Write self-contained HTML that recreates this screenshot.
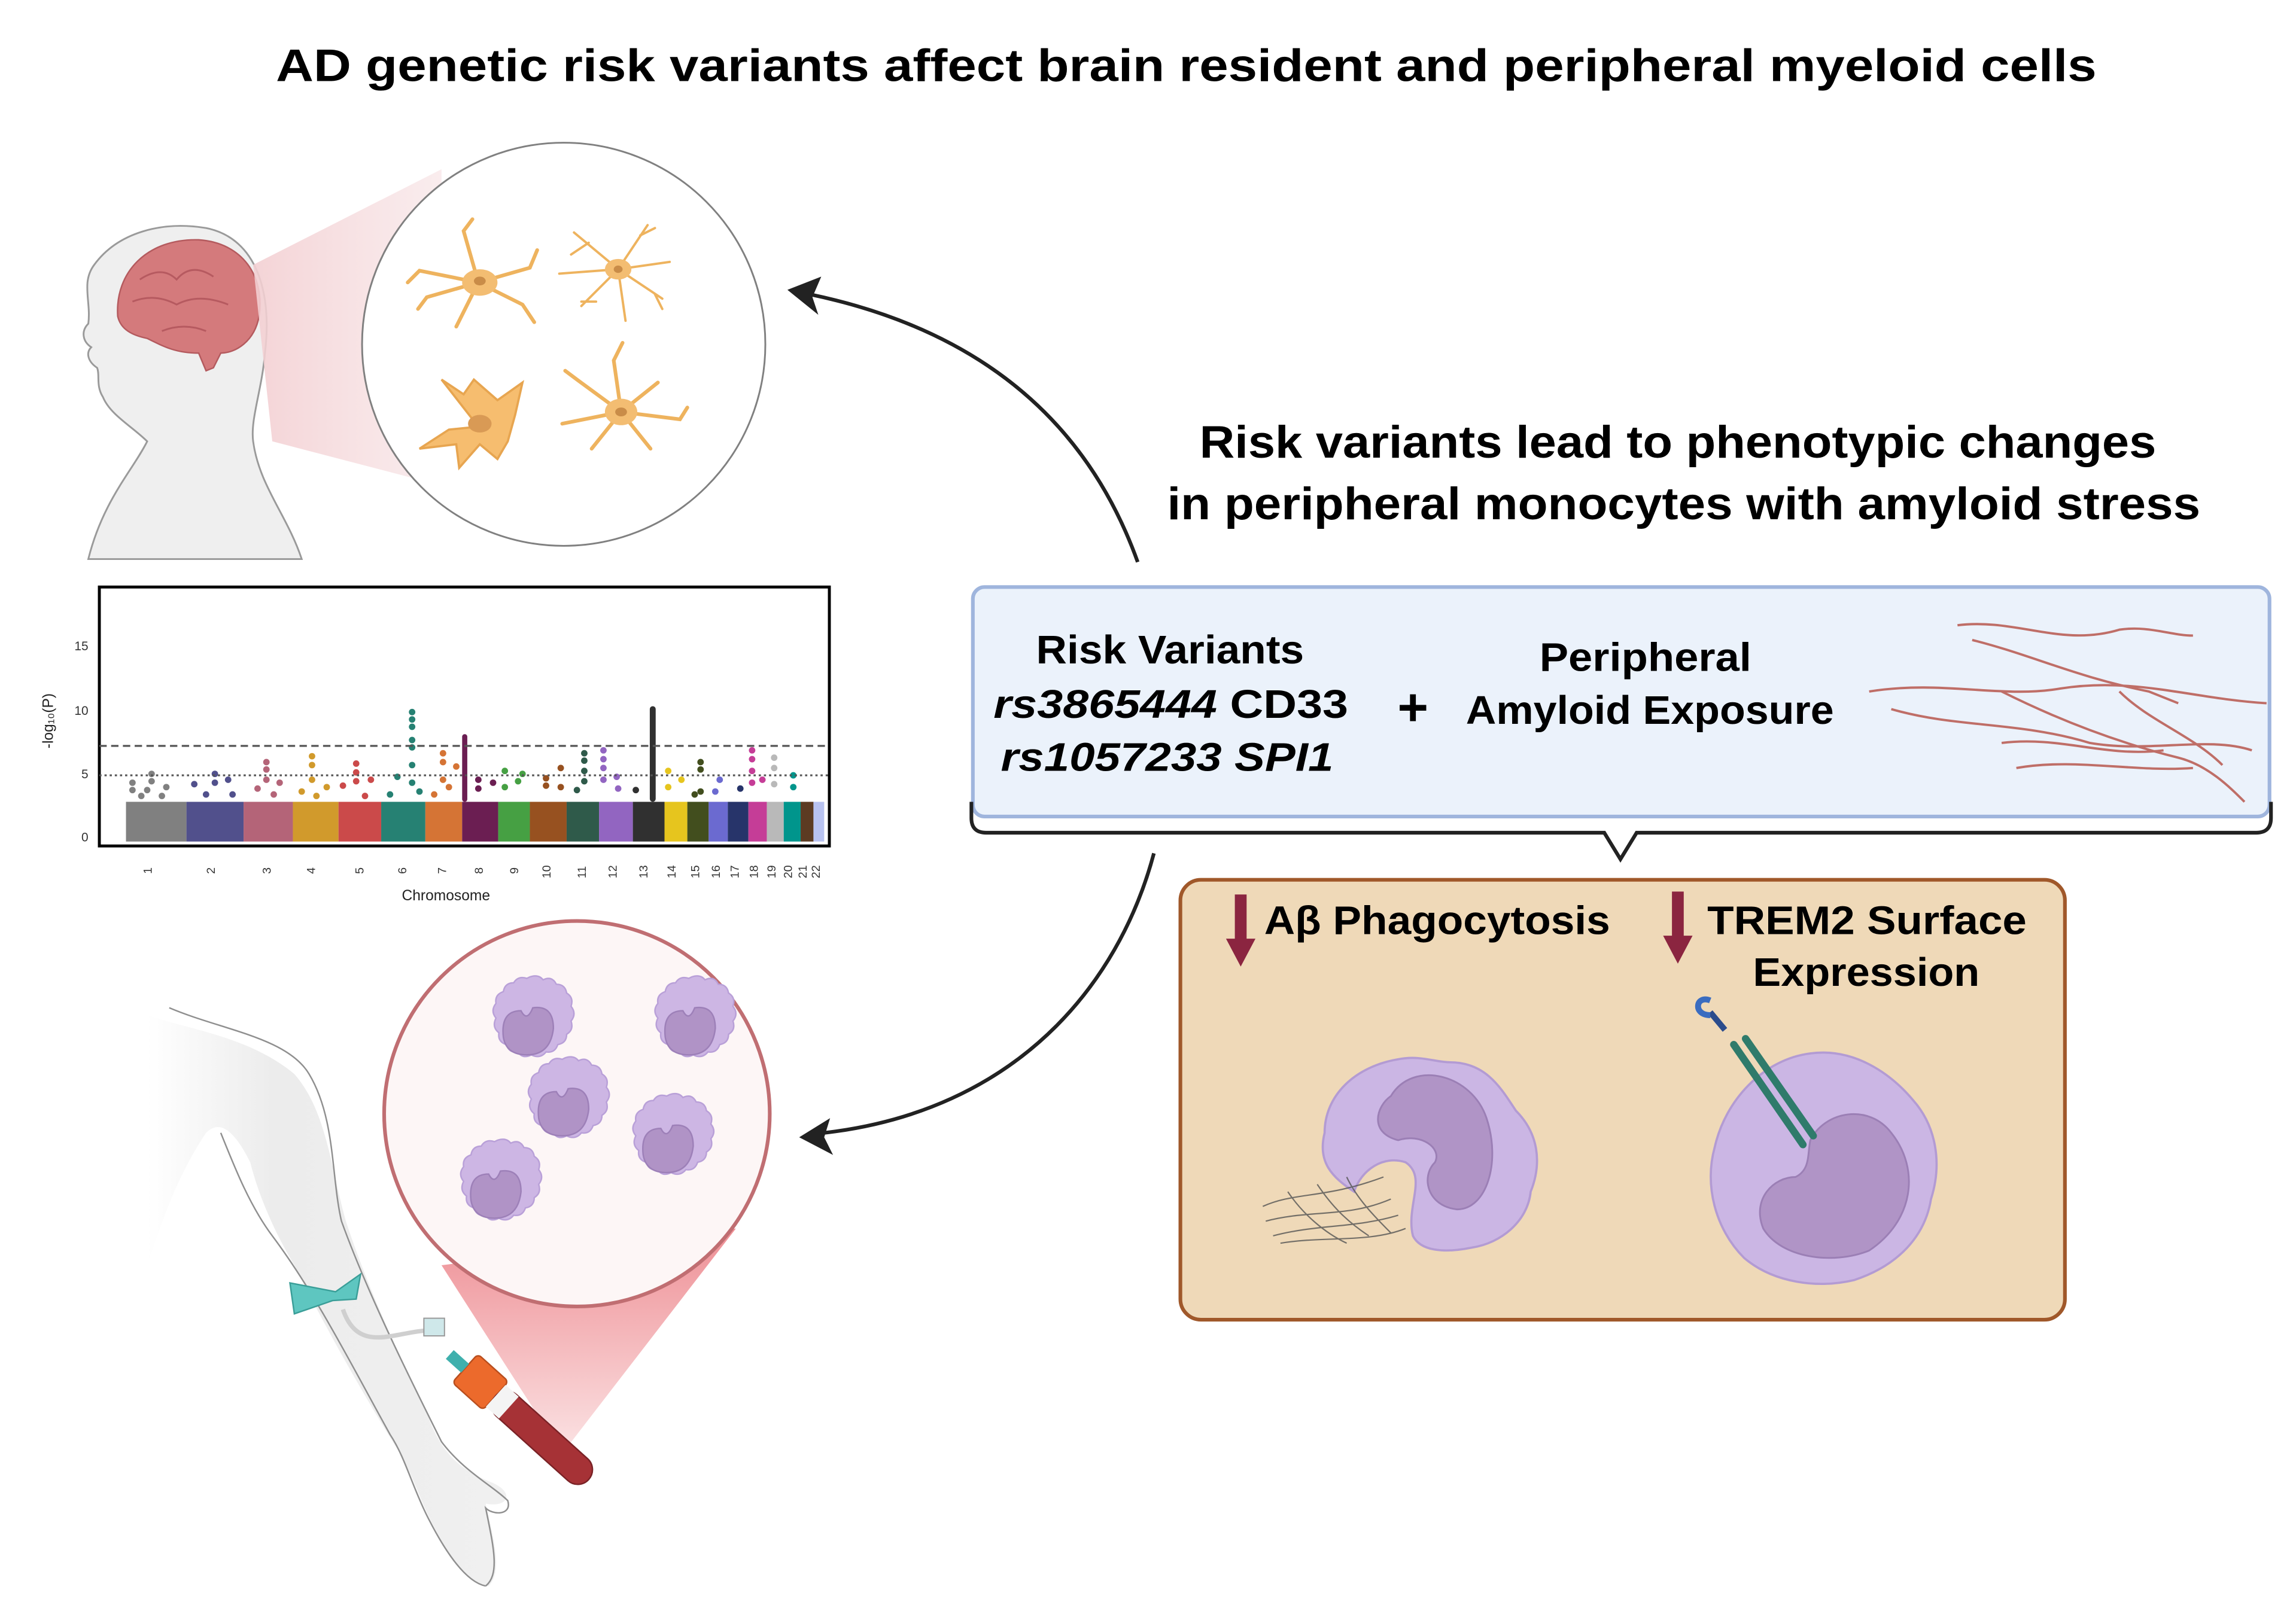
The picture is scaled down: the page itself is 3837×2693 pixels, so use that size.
<!DOCTYPE html>
<html><head><meta charset="utf-8"><style>
html,body{margin:0;padding:0;background:#fff;}
svg{display:block;}
text{font-family:"Liberation Sans",sans-serif;}
</style></head><body>
<svg width="3837" height="2693" viewBox="0 0 1560 1095" preserveAspectRatio="none" xmlns="http://www.w3.org/2000/svg">
<defs>
<linearGradient id="cone1" x1="0" y1="0" x2="1" y2="0"><stop offset="0" stop-color="#f3cfd2" stop-opacity="0.9"/><stop offset="1" stop-color="#f6e0e2" stop-opacity="0.6"/></linearGradient>
<linearGradient id="cone2" x1="0" y1="0" x2="0" y2="1"><stop offset="0" stop-color="#ee8f95"/><stop offset="1" stop-color="#fbe3e4"/></linearGradient>
<linearGradient id="armg" x1="0" y1="0" x2="1" y2="0"><stop offset="0" stop-color="#fff"/><stop offset="0.35" stop-color="#ececec"/><stop offset="1" stop-color="#f0f0f0"/></linearGradient>
<g id="mono">
<path d="M0,-33 q6,-2 9,2 q6,-3 9,3 q6,0 7,6 q5,3 3,9 q4,5 0,10 q2,6 -3,9 q0,6 -6,7 q-2,6 -8,5 q-4,5 -10,2 q-6,3 -9,-2 q-6,1 -8,-5 q-6,-2 -5,-8 q-5,-4 -2,-10 q-4,-5 0,-10 q-1,-6 5,-8 q1,-6 7,-6 q3,-5 9,-3z" fill="#cdb6e4" stroke="#b9a0d8" stroke-width="1"/>
<path d="M-18,8 q-2,-18 12,-18 q4,8 8,-2 q14,-2 14,14 q-2,18 -18,18 q-14,0 -16,-12z" fill="#b093c6" stroke="#9d80b8" stroke-width="1"/>
</g>
</defs>

<text x="806" y="55" font-size="31" font-weight="bold" text-anchor="middle" textLength="1237" lengthAdjust="spacingAndGlyphs">AD genetic risk variants affect brain resident and peripheral myeloid cells</text>

<!-- Head -->
<path d="M60,380 C70,340 90,320 100,300 C90,290 75,282 70,270 C65,262 68,255 66,250 C60,246 58,240 62,236 C56,232 55,225 60,220 C62,205 55,192 64,180 C80,158 110,150 140,155 C175,162 185,200 180,240 C178,265 170,285 172,300 C176,330 195,350 205,380 Z" fill="#efefef" stroke="#9a9a9a" stroke-width="1.2"/>
<path d="M80,215 C78,185 100,162 135,163 C165,165 180,188 176,215 C173,232 160,240 150,240 L145,250 L140,252 L135,240 C120,240 112,236 100,230 C90,228 82,224 80,215Z" fill="#d47a7c" stroke="#b45a5e" stroke-width="1"/>
<path d="M95,190 q15,-10 25,0 q10,-12 25,-2 M90,205 q15,-6 30,2 q15,-8 35,0 M110,225 q15,-6 30,0" stroke="#b65a60" fill="none" stroke-width="1.2"/>
<path d="M172,180 L300,115 L300,330 L185,300 Z" fill="url(#cone1)"/>
<circle cx="383" cy="234" r="137" fill="#fff" stroke="#808080" stroke-width="1.2"/>
<g stroke="#eeb35e" stroke-width="2.5" fill="none" stroke-linecap="round">
<path d="M325,192 l-40,-8 l-8,8 M325,192 l-10,-35 l6,-8 M325,192 l35,-10 l5,-12 M325,192 l30,15 l8,12 M325,192 l-15,30 M325,192 l-35,10 l-6,8"/>
<path d="M420,183 l-30,-25 M420,183 l20,-30 M420,183 l35,-5 M420,183 l30,20 M420,183 l5,35 M420,183 l-25,25 M420,183 l-40,3 M400,165 l-12,8 M435,160 l10,-5 M445,200 l5,10 M405,205 l-10,0" stroke-width="1.6"/>
<path d="M422,280 l-30,-22 l-8,-6 M422,280 l-5,-35 l6,-12 M422,280 l25,-20 M422,280 l40,5 l5,-8 M422,280 l20,25 M422,280 l-20,25 M422,280 l-40,8"/>
</g>
<ellipse cx="326" cy="192" rx="12" ry="9" fill="#f3bd72"/><ellipse cx="326" cy="191" rx="4" ry="3" fill="#c98c48"/>
<ellipse cx="420" cy="183" rx="9" ry="7" fill="#f3bd72"/><ellipse cx="420" cy="183" rx="3" ry="2.5" fill="#c98c48"/>
<ellipse cx="422" cy="280" rx="11" ry="9" fill="#f3bd72"/><ellipse cx="422" cy="280" rx="4" ry="3" fill="#c98c48"/>
<path d="M325,290 L300,258 L315,268 L322,258 L338,272 L355,260 L350,282 L345,300 L338,312 L326,302 L312,318 L310,302 L285,305 L305,292Z" fill="#f6bd6f" stroke="#e7a550" stroke-width="1.5"/>
<ellipse cx="326" cy="288" rx="8" ry="6" fill="#d99a55"/>

<!-- Manhattan plot -->
<rect x="67.5" y="399" width="496" height="176" fill="#fff" stroke="#000" stroke-width="2"/>
<g font-size="8.5" fill="#333" text-anchor="end">
<text x="60" y="442">15</text><text x="60" y="486">10</text><text x="60" y="529">5</text><text x="60" y="572">0</text>
</g>
<text transform="translate(36,490) rotate(-90)" font-size="10" text-anchor="middle" fill="#222">-log₁₀(P)</text>
<g>
<rect x="85.6" y="545" width="41.1" height="27" fill="#808080"/>
<rect x="126.7" y="545" width="38.8" height="27" fill="#51508c"/>
<rect x="165.5" y="545" width="33.5" height="27" fill="#b46478"/>
<rect x="199" y="545" width="31" height="27" fill="#d19a2c"/>
<rect x="230" y="545" width="29" height="27" fill="#cb4a4a"/>
<rect x="259" y="545" width="30" height="27" fill="#268173"/>
<rect x="289" y="545" width="25" height="27" fill="#d57435"/>
<rect x="314" y="545" width="24.5" height="27" fill="#6b1e52"/>
<rect x="338.5" y="545" width="21.5" height="27" fill="#46a043"/>
<rect x="360" y="545" width="25" height="27" fill="#975120"/>
<rect x="385" y="545" width="22" height="27" fill="#2f5a4a"/>
<rect x="407" y="545" width="23" height="27" fill="#9265c1"/>
<rect x="430" y="545" width="21.5" height="27" fill="#303030"/>
<rect x="451.5" y="545" width="15.5" height="27" fill="#e6c51e"/>
<rect x="467" y="545" width="14.5" height="27" fill="#424e1e"/>
<rect x="481.5" y="545" width="13" height="27" fill="#6b6ad0"/>
<rect x="494.5" y="545" width="14" height="27" fill="#27346a"/>
<rect x="508.5" y="545" width="12.5" height="27" fill="#c53d97"/>
<rect x="521" y="545" width="11.5" height="27" fill="#b9b9b9"/>
<rect x="532.5" y="545" width="11.5" height="27" fill="#00958c"/>
<rect x="544" y="545" width="8.7" height="27" fill="#5c3b22"/>
<rect x="552.7" y="545" width="7.3" height="27" fill="#b8c2f0"/>
</g>
<g>
<g fill="#808080"><circle cx="90" cy="537" r="2.2"/><circle cx="90" cy="532" r="2.2"/><circle cx="103" cy="526" r="2.2"/><circle cx="103" cy="531" r="2.2"/><circle cx="100" cy="537" r="2.2"/><circle cx="113" cy="535" r="2.2"/><circle cx="96" cy="541" r="2.2"/><circle cx="110" cy="541" r="2.2"/></g>
<g fill="#51508c"><circle cx="146" cy="526" r="2.2"/><circle cx="146" cy="532" r="2.2"/><circle cx="155" cy="530" r="2.2"/><circle cx="132" cy="533" r="2.2"/><circle cx="140" cy="540" r="2.2"/><circle cx="158" cy="540" r="2.2"/></g>
<g fill="#b46478"><circle cx="181" cy="518" r="2.2"/><circle cx="181" cy="523" r="2.2"/><circle cx="181" cy="530" r="2.2"/><circle cx="190" cy="532" r="2.2"/><circle cx="175" cy="536" r="2.2"/><circle cx="186" cy="540" r="2.2"/></g>
<g fill="#d19a2c"><circle cx="212" cy="514" r="2.2"/><circle cx="212" cy="520" r="2.2"/><circle cx="212" cy="530" r="2.2"/><circle cx="222" cy="535" r="2.2"/><circle cx="205" cy="538" r="2.2"/><circle cx="215" cy="541" r="2.2"/></g>
<g fill="#cb4a4a"><circle cx="242" cy="519" r="2.2"/><circle cx="242" cy="525" r="2.2"/><circle cx="242" cy="531" r="2.2"/><circle cx="252" cy="530" r="2.2"/><circle cx="233" cy="534" r="2.2"/><circle cx="248" cy="541" r="2.2"/></g>
<g fill="#268173"><circle cx="280" cy="484" r="2.2"/><circle cx="280" cy="489" r="2.2"/><circle cx="280" cy="494" r="2.2"/><circle cx="280" cy="503" r="2.2"/><circle cx="280" cy="508" r="2.2"/><circle cx="280" cy="520" r="2.2"/><circle cx="270" cy="528" r="2.2"/><circle cx="285" cy="538" r="2.2"/><circle cx="280" cy="532" r="2.2"/><circle cx="265" cy="540" r="2.2"/></g>
<g fill="#d57435"><circle cx="301" cy="512" r="2.2"/><circle cx="301" cy="518" r="2.2"/><circle cx="310" cy="521" r="2.2"/><circle cx="301" cy="530" r="2.2"/><circle cx="305" cy="535" r="2.2"/><circle cx="295" cy="540" r="2.2"/></g>
<g fill="#6b1e52"><rect x="314" y="499" width="3.5" height="46" rx="1.7"/><circle cx="325" cy="530" r="2.2"/><circle cx="335" cy="532" r="2.2"/><circle cx="325" cy="536" r="2.2"/></g>
<g fill="#46a043"><circle cx="343" cy="524" r="2.2"/><circle cx="355" cy="526" r="2.2"/><circle cx="352" cy="531" r="2.2"/><circle cx="343" cy="535" r="2.2"/></g>
<g fill="#975120"><circle cx="371" cy="529" r="2.2"/><circle cx="381" cy="522" r="2.2"/><circle cx="371" cy="534" r="2.2"/><circle cx="381" cy="535" r="2.2"/></g>
<g fill="#2f5a4a"><circle cx="397" cy="512" r="2.2"/><circle cx="397" cy="517" r="2.2"/><circle cx="397" cy="524" r="2.2"/><circle cx="397" cy="531" r="2.2"/><circle cx="392" cy="537" r="2.2"/></g>
<g fill="#9265c1"><circle cx="410" cy="510" r="2.2"/><circle cx="410" cy="516" r="2.2"/><circle cx="410" cy="522" r="2.2"/><circle cx="410" cy="530" r="2.2"/><circle cx="419" cy="528" r="2.2"/><circle cx="420" cy="536" r="2.2"/></g>
<g fill="#303030"><rect x="441.5" y="480" width="4" height="65" rx="2"/><circle cx="432" cy="537" r="2.2"/></g>
<g fill="#e6c51e"><circle cx="454" cy="524" r="2.2"/><circle cx="454" cy="535" r="2.2"/><circle cx="463" cy="530" r="2.2"/></g>
<g fill="#424e1e"><circle cx="476" cy="518" r="2.2"/><circle cx="476" cy="523" r="2.2"/><circle cx="476" cy="538" r="2.2"/><circle cx="472" cy="540" r="2.2"/></g>
<g fill="#6b6ad0"><circle cx="489" cy="530" r="2.2"/><circle cx="486" cy="538" r="2.2"/></g>
<g fill="#27346a"><circle cx="503" cy="536" r="2.2"/></g>
<g fill="#c53d97"><circle cx="511" cy="510" r="2.2"/><circle cx="511" cy="516" r="2.2"/><circle cx="511" cy="524" r="2.2"/><circle cx="511" cy="532" r="2.2"/><circle cx="518" cy="530" r="2.2"/></g>
<g fill="#b9b9b9"><circle cx="526" cy="515" r="2.2"/><circle cx="526" cy="522" r="2.2"/><circle cx="526" cy="533" r="2.2"/></g>
<g fill="#00958c"><circle cx="539" cy="527" r="2.2"/><circle cx="539" cy="535" r="2.2"/></g>
</g>
<line x1="67.5" y1="507" x2="563" y2="507" stroke="#555" stroke-width="1.3" stroke-dasharray="5,3"/>
<line x1="67.5" y1="527" x2="563" y2="527" stroke="#555" stroke-width="1.3" stroke-dasharray="1.5,2"/>
<g font-size="8" fill="#333">
<g transform="translate(103,594) rotate(-90)"><text>1</text></g>
<g transform="translate(146,594) rotate(-90)"><text>2</text></g>
<g transform="translate(184,594) rotate(-90)"><text>3</text></g>
<g transform="translate(214,594) rotate(-90)"><text>4</text></g>
<g transform="translate(247,594) rotate(-90)"><text>5</text></g>
<g transform="translate(276,594) rotate(-90)"><text>6</text></g>
<g transform="translate(303,594) rotate(-90)"><text>7</text></g>
<g transform="translate(328,594) rotate(-90)"><text>8</text></g>
<g transform="translate(352,594) rotate(-90)"><text>9</text></g>
<g transform="translate(374,597) rotate(-90)"><text>10</text></g>
<g transform="translate(398,597) rotate(-90)"><text>11</text></g>
<g transform="translate(419,597) rotate(-90)"><text>12</text></g>
<g transform="translate(440,597) rotate(-90)"><text>13</text></g>
<g transform="translate(459,597) rotate(-90)"><text>14</text></g>
<g transform="translate(475,597) rotate(-90)"><text>15</text></g>
<g transform="translate(489,597) rotate(-90)"><text>16</text></g>
<g transform="translate(502,597) rotate(-90)"><text>17</text></g>
<g transform="translate(515,597) rotate(-90)"><text>18</text></g>
<g transform="translate(527,597) rotate(-90)"><text>19</text></g>
<g transform="translate(538,597) rotate(-90)"><text>20</text></g>
<g transform="translate(548,597) rotate(-90)"><text>21</text></g>
<g transform="translate(557,597) rotate(-90)"><text>22</text></g>
</g>
<text x="303" y="612" font-size="10" text-anchor="middle" fill="#222">Chromosome</text>

<!-- Arm -->
<path d="M100,690 C130,700 170,705 200,730 C222,755 225,795 235,830 C248,870 270,920 290,960 C300,990 315,1000 335,1008 C350,1015 345,1025 330,1022 C335,1045 342,1068 332,1078 C318,1078 305,1058 296,1040 C285,1020 280,1000 270,985 C245,945 220,900 200,860 C185,835 175,810 170,790 C160,770 150,760 140,770 C120,800 110,830 100,860 Z" fill="url(#armg)" stroke="none"/>
<path d="M115,685 C150,700 195,705 210,730 C228,760 225,800 232,830 C250,880 280,940 300,980 C315,1000 335,1010 345,1020 C348,1030 335,1030 330,1025 C335,1050 340,1070 330,1078" fill="none" stroke="#8f8f8f" stroke-width="1"/>
<path d="M330,1078 C315,1075 300,1050 290,1030 C280,1010 275,990 265,975 C240,930 215,880 185,840 C170,820 160,795 150,770" fill="none" stroke="#8f8f8f" stroke-width="1"/>
<path d="M197,872 L228,878 L245,866 L242,883 L226,884 L200,893Z" fill="#5ec6c0" stroke="#3a9e98" stroke-width="1"/>
<path d="M233,890 C245,925 275,900 300,905" stroke="#cfcfcf" stroke-width="3" fill="none"/>
<rect x="288" y="896" width="14" height="12" fill="#cfe8ea" stroke="#999" stroke-width="0.8"/>
<path d="M300,860 L500,835 L382,988 Z" fill="url(#cone2)"/>
<circle cx="392" cy="757" r="131" fill="#fdf6f6" stroke="#c06e72" stroke-width="2.5"/>
<use href="#mono" x="360" y="697"/>
<use href="#mono" x="470" y="697"/>
<use href="#mono" x="384" y="752"/>
<use href="#mono" x="455" y="777"/>
<use href="#mono" x="338" y="808"/>
<g transform="translate(316,930) rotate(42)">
<rect x="0" y="-13" width="28" height="26" rx="3" fill="#ec6a2c" stroke="#b84e1e"/>
<rect x="28" y="-10" width="85" height="20" rx="10" fill="#a63236" stroke="#7a2226"/>
<rect x="28" y="-10" width="12" height="20" fill="#f4f4f4"/>
<rect x="-14" y="-4" width="14" height="8" fill="#3fb0ad"/>
</g>

<!-- Arrows -->
<path d="M773,382 C740,290 670,225 550,200" stroke="#222" stroke-width="2.5" fill="none"/>
<path d="M535,197 L558,188 L552,202 L556,214Z" fill="#222"/>
<path d="M784,580 C760,670 690,755 560,770" stroke="#222" stroke-width="2.5" fill="none"/>
<path d="M543,773 L564,760 L560,773 L566,785Z" fill="#222"/>

<text x="1140" y="311" font-size="31" font-weight="bold" text-anchor="middle" textLength="650" lengthAdjust="spacingAndGlyphs">Risk variants lead to phenotypic changes</text>
<text x="1144" y="353" font-size="31" font-weight="bold" text-anchor="middle" textLength="702" lengthAdjust="spacingAndGlyphs">in peripheral monocytes with amyloid stress</text>

<rect x="661" y="399" width="881" height="156" rx="8" fill="#ebf2fb" stroke="#9fb5dd" stroke-width="2.5"/>
<path d="M660,545 L660,556 Q660,566 670,566 L1090,566 L1101,584 L1112,566 L1533,566 Q1543,566 1543,556 L1543,545" stroke="#222" stroke-width="2.5" fill="none"/>
<text x="795" y="451" font-size="27" font-weight="bold" text-anchor="middle" textLength="182" lengthAdjust="spacingAndGlyphs">Risk Variants</text>
<text x="675" y="488" font-size="27" font-weight="bold" textLength="241" lengthAdjust="spacingAndGlyphs"><tspan font-style="italic">rs3865444</tspan>  CD33</text>
<text x="680" y="524" font-size="27" font-weight="bold" font-style="italic" textLength="226" lengthAdjust="spacingAndGlyphs">rs1057233 SPI1</text>
<text x="960" y="493" font-size="36" font-weight="bold" text-anchor="middle">+</text>
<text x="1118" y="456" font-size="27" font-weight="bold" text-anchor="middle" textLength="144" lengthAdjust="spacingAndGlyphs">Peripheral</text>
<text x="1121" y="492" font-size="27" font-weight="bold" text-anchor="middle" textLength="250" lengthAdjust="spacingAndGlyphs">Amyloid Exposure</text>
<g stroke="#b8574e" stroke-width="1.6" fill="none" opacity="0.85">
<path d="M1330,425 C1370,420 1400,440 1440,428 C1460,425 1475,432 1490,432"/>
<path d="M1340,435 C1380,445 1410,460 1460,470 L1480,478"/>
<path d="M1270,470 C1320,462 1360,475 1400,468 C1450,460 1490,475 1540,478"/>
<path d="M1285,482 C1330,495 1370,490 1420,505 C1460,512 1500,500 1530,510"/>
<path d="M1360,470 C1400,490 1440,505 1480,515 C1500,520 1515,535 1525,545"/>
<path d="M1360,505 C1400,500 1430,515 1470,510"/>
<path d="M1370,522 C1410,515 1450,525 1490,522"/>
<path d="M1440,470 C1460,490 1490,500 1510,520"/>
</g>

<rect x="802" y="598" width="601" height="299" rx="14" fill="#efd9b8" stroke="#a0582a" stroke-width="2.5"/>
<path d="M839,608 L847,608 L847,638 L853,638 L843,657 L833,638 L839,638Z" fill="#8b2540"/>
<path d="M1136,606 L1144,606 L1144,636 L1150,636 L1140,655 L1130,636 L1136,636Z" fill="#8b2540"/>
<text x="859" y="635" font-size="27" font-weight="bold" textLength="235" lengthAdjust="spacingAndGlyphs">Aβ Phagocytosis</text>
<text x="1160" y="635" font-size="27" font-weight="bold" textLength="217" lengthAdjust="spacingAndGlyphs">TREM2 Surface</text>
<text x="1268" y="670" font-size="27" font-weight="bold" text-anchor="middle" textLength="154" lengthAdjust="spacingAndGlyphs">Expression</text>
<path d="M985,722 C1010,722 1020,740 1030,755 C1045,770 1048,790 1040,810 C1038,830 1020,845 1000,848 C980,852 965,850 960,840 C955,820 970,800 955,790 C940,785 925,795 920,810 C905,800 895,790 900,770 C900,745 920,725 950,720 C965,717 975,722 985,722Z" fill="#cbb6e4" stroke="#b39bd3" stroke-width="1.5"/>
<path d="M945,745 C960,720 1000,730 1010,760 C1020,790 1010,822 990,822 C970,820 965,800 975,790 C980,780 965,770 950,775 C930,770 935,752 945,745Z" fill="#b094c6" stroke="#9b7fb5" stroke-width="1.2"/>
<g stroke="#555" stroke-width="0.9" fill="none" opacity="0.8">
<path d="M858,820 C880,810 900,815 940,800"/><path d="M860,830 C890,822 915,828 945,815"/><path d="M865,840 C895,832 920,835 950,826"/><path d="M875,810 C885,825 900,838 915,845"/><path d="M895,805 C905,820 915,830 930,840"/><path d="M915,800 C922,815 935,828 945,838"/><path d="M870,845 C900,840 930,845 955,835"/>
</g>
<path d="M1230,716 C1260,712 1285,730 1300,748 C1315,765 1320,790 1312,815 C1308,840 1290,860 1260,870 C1235,876 1205,872 1185,855 C1165,835 1158,805 1165,780 C1172,748 1198,720 1230,716Z" fill="#cbb6e4" stroke="#b39bd3" stroke-width="1.5"/>
<path d="M1230,775 C1240,755 1270,750 1285,770 C1305,795 1300,830 1270,850 C1245,860 1210,855 1198,835 C1190,815 1205,800 1220,800 C1230,795 1228,785 1230,775Z" fill="#b094c6" stroke="#9b7fb5" stroke-width="1.2"/>
<g stroke="#2f7b6b" stroke-width="5" stroke-linecap="round">
<line x1="1178" y1="710" x2="1225" y2="778"/><line x1="1186" y1="706" x2="1232" y2="772"/>
</g>
<path d="M1172,700 L1162,688" stroke="#2b4c8c" stroke-width="4"/>
<path d="M1162,690 C1150,690 1152,676 1162,680" stroke="#3a6cc0" stroke-width="4" fill="none"/>
</svg>
</body></html>
